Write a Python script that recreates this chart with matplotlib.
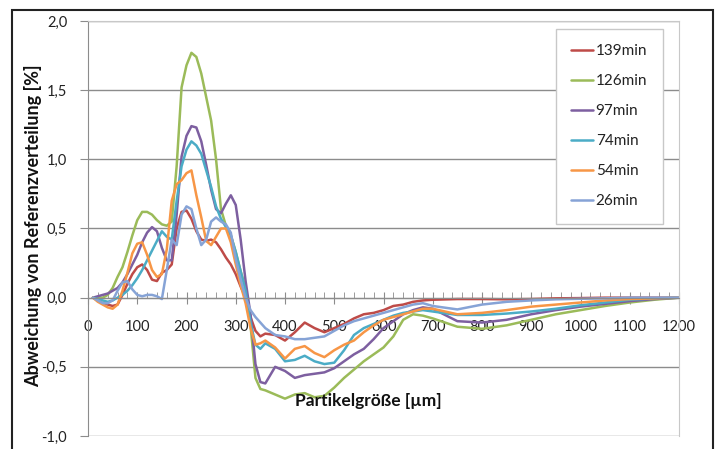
import matplotlib
matplotlib.use('Agg')
import matplotlib.pyplot as plt
from matplotlib.patches import Rectangle
from matplotlib.ticker import MultipleLocator, FuncFormatter

plt.rcParams['font.family'] = ['Lato', 'DejaVu Sans']

# particle size [µm]
size = [10, 20, 30, 40, 50, 60, 70, 80, 90, 100, 110, 120, 130, 140, 150, 160, 170,
        180, 190, 200, 210, 220, 230, 240, 250, 260, 270, 280, 290, 300, 310, 320,
        330, 340, 350, 360, 380, 400, 420, 440, 460, 480, 500, 520, 540, 560, 580,
        600, 620, 640, 660, 680, 700, 750, 800, 850, 900, 950, 1000, 1050, 1100,
        1150, 1200]

dev_139 = [0.00, -0.02, -0.04, -0.05, -0.06, -0.05, 0.02, 0.10, 0.17, 0.22, 0.24, 0.20,
           0.13, 0.12, 0.18, 0.20, 0.24, 0.50, 0.62, 0.63, 0.57, 0.48, 0.42, 0.41, 0.42,
           0.40, 0.35, 0.29, 0.24, 0.17, 0.08, 0.00, -0.14, -0.24, -0.28, -0.26, -0.27,
           -0.31, -0.25, -0.18, -0.22, -0.25, -0.22, -0.19, -0.15, -0.12, -0.11, -0.09,
           -0.06, -0.05, -0.03, -0.02, -0.015, -0.01, -0.01, -0.012, -0.01, -0.005,
           -0.003, 0.0, 0.0, 0.0, 0.0]
dev_126 = [0.00, 0.00, 0.00, 0.02, 0.07, 0.15, 0.22, 0.33, 0.45, 0.56, 0.62, 0.62,
           0.60, 0.56, 0.53, 0.52, 0.55, 0.95, 1.52, 1.68, 1.77, 1.74, 1.62, 1.45, 1.28,
           1.00, 0.64, 0.52, 0.45, 0.33, 0.19, 0.07, -0.20, -0.58, -0.66, -0.67, -0.70,
           -0.73, -0.70, -0.69, -0.72, -0.71, -0.65, -0.58, -0.52, -0.46, -0.41, -0.36,
           -0.28, -0.16, -0.12, -0.13, -0.15, -0.21, -0.225, -0.20, -0.16, -0.12, -0.09,
           -0.06, -0.035, -0.015, 0.0]
dev_97 = [0.00, 0.01, 0.02, 0.03, 0.05, 0.07, 0.11, 0.17, 0.24, 0.31, 0.40, 0.47,
          0.51, 0.48, 0.36, 0.27, 0.27, 0.60, 1.02, 1.17, 1.24, 1.23, 1.13, 0.96, 0.78,
          0.64, 0.61, 0.68, 0.74, 0.67, 0.42, 0.12, -0.12, -0.48, -0.61, -0.62, -0.50,
          -0.53, -0.58, -0.56, -0.55, -0.54, -0.51, -0.46, -0.41, -0.37, -0.30, -0.22,
          -0.17, -0.12, -0.09, -0.07, -0.08, -0.17, -0.18, -0.16, -0.12, -0.09, -0.065,
          -0.045, -0.025, -0.01, 0.0]
dev_74 = [0.00, -0.01, -0.02, -0.03, -0.02, 0.00, 0.02, 0.05, 0.09, 0.14, 0.20, 0.27,
          0.34, 0.41, 0.48, 0.44, 0.42, 0.70, 0.95, 1.07, 1.13, 1.10, 1.04, 0.92, 0.80,
          0.66, 0.57, 0.51, 0.45, 0.33, 0.19, 0.05, -0.18, -0.34, -0.37, -0.33, -0.37,
          -0.46, -0.45, -0.42, -0.46, -0.48, -0.47, -0.38, -0.27, -0.22, -0.19, -0.16,
          -0.13, -0.11, -0.10, -0.09, -0.10, -0.125, -0.125, -0.115, -0.10, -0.08,
          -0.055, -0.035, -0.015, -0.005, 0.0]
dev_54 = [0.00, -0.03, -0.05, -0.07, -0.08, -0.05, 0.05, 0.18, 0.32, 0.39, 0.40, 0.31,
          0.20, 0.15, 0.17, 0.35, 0.70, 0.82, 0.85, 0.90, 0.92, 0.74, 0.58, 0.41, 0.38,
          0.44, 0.50, 0.50, 0.40, 0.24, 0.09, -0.04, -0.22, -0.34, -0.33, -0.31, -0.36,
          -0.44, -0.37, -0.35, -0.40, -0.43, -0.38, -0.34, -0.31, -0.25, -0.20, -0.16,
          -0.14, -0.12, -0.10, -0.08, -0.08, -0.12, -0.11, -0.09, -0.065, -0.05, -0.035,
          -0.02, -0.01, -0.005, 0.0]
dev_26 = [0.00, -0.02, -0.04, -0.04, -0.02, 0.05, 0.11, 0.12, 0.06, 0.02, 0.01, 0.02,
          0.02, 0.01, -0.01, 0.20, 0.42, 0.38, 0.60, 0.66, 0.64, 0.50, 0.38, 0.42, 0.55,
          0.58, 0.55, 0.53, 0.47, 0.28, 0.13, 0.00, -0.09, -0.14, -0.18, -0.22, -0.27,
          -0.28, -0.30, -0.30, -0.29, -0.28, -0.24, -0.20, -0.17, -0.15, -0.13, -0.11,
          -0.09, -0.07, -0.05, -0.04, -0.06, -0.085, -0.05, -0.03, -0.02, -0.012,
          -0.008, -0.005, 0.0, 0.0, 0.0]

labels = ['139min', '126min', '97min', '74min', '54min', '26min']
series = [dev_139, dev_126, dev_97, dev_74, dev_54, dev_26]
colors = ['#BE4B48', '#9BBB59', '#7D5FA0', '#4BACC6', '#F79646', '#86A3D6']

fig = plt.figure(figsize=(7.17, 4.49), dpi=100)
fig.patches.append(Rectangle((12 / 717, -0.1), 701 / 717, 439 / 449 + 0.1,
                             transform=fig.transFigure, fill=False,
                             edgecolor='#222222', lw=1.5))

ax = fig.add_axes([88 / 717, 1 - 436 / 449, 591 / 717, 415 / 449])

for y, lab, c in zip(series, labels, colors):
    ax.plot(size, y, color=c, lw=1.8, label=lab, solid_capstyle='round',
            solid_joinstyle='round')

ax.set_xlim(0, 1200)
ax.set_ylim(-1.0, 2.0)
ax.yaxis.set_major_locator(MultipleLocator(0.5))
ax.yaxis.set_major_formatter(FuncFormatter(lambda v, p: f'{v:.1f}'.replace('.', ',')))
ax.grid(axis='y', color='#8C8C8C', lw=1.0)
ax.set_axisbelow(True)

for s in ['top', 'right']:
    ax.spines[s].set_color('#C8C8C8')
ax.spines['left'].set_color('#8C8C8C')
ax.spines['bottom'].set_position(('data', 0))
ax.spines['bottom'].set_color('#8C8C8C')

ax.xaxis.set_major_locator(MultipleLocator(100))
ax.xaxis.set_minor_locator(MultipleLocator(20))
ax.tick_params(axis='x', which='major', direction='inout', length=8, color='#8C8C8C',
               pad=12, labelsize=10.5, labelcolor='#222222')
ax.tick_params(axis='x', which='minor', direction='in', length=4, color='#8C8C8C')
ax.tick_params(axis='y', length=6, color='#8C8C8C', pad=9, labelsize=10.5,
               labelcolor='#222222')

ax.text(570, -0.745, 'Partikelgröße [µm]', ha='center', va='center',
        fontsize=12.5, fontweight='bold', color='#111111')
fig.text(33 / 717, 1 - 226 / 449, 'Abweichung von Referenzverteilung [%]',
         rotation=90, ha='center', va='center', fontsize=13, fontweight='bold',
         color='#111111')

leg = ax.legend(loc='upper left', bbox_to_anchor=(556 / 717, 1 - 29 / 449),
                bbox_transform=fig.transFigure, fontsize=11, frameon=True,
                fancybox=False, framealpha=1, edgecolor='#C8C8C8',
                handlelength=1.45, handletextpad=0.15, labelspacing=1.05,
                borderpad=1.0, borderaxespad=0)
leg.get_frame().set_linewidth(1.0)
for t in leg.get_texts():
    t.set_color('#222222')

fig.savefig('out.png', dpi=100)
